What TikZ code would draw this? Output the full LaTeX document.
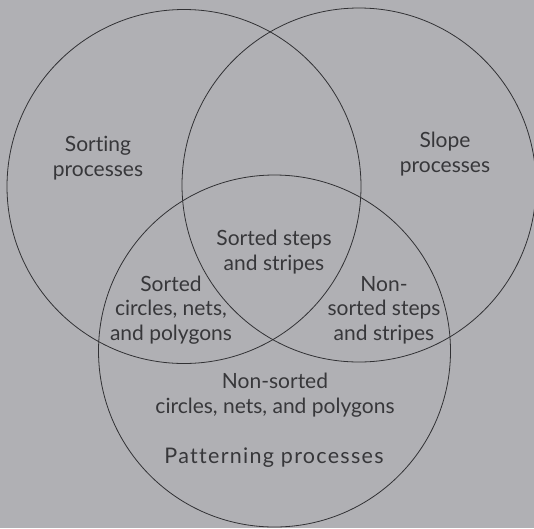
\documentclass[tikz,border=0pt]{standalone}
\usepackage{fontspec}
\setmainfont{Lato}[Ligatures={NoCommon}]
\definecolor{bg}{RGB}{176,176,180}
\definecolor{ink}{RGB}{55,55,58}
\begin{document}
\begin{tikzpicture}[x=1pt,y=-1pt,
  ring/.style={draw=ink!90!black,line width=0.8pt},
  lbl/.style={text=ink,font=\fontsize{21}{24.5}\selectfont,align=center,inner sep=0pt}]
\fill[bg] (0,0) rectangle (534,528);
\useasboundingbox (0,0) rectangle (534,528);
\draw[ring] (184,186.5) circle (177);
\draw[ring] (359,185) circle (177);
\draw[ring] (274.5,351) circle (176);
\node[lbl] (sort) at (98,158) {Sorting\\processes};
\node[lbl] (slope) at (445,154) {Slope\\processes};
\node[lbl] (sss) at (274,252) {Sorted steps\\and stripes};
\node[lbl] (scnp) at (171,310) {Sorted\\circles, nets,\\and polygons};
\node[lbl] (nsss) at (384,310) {Non-\\sorted steps\\and stripes};
\node[lbl] (nscnp) at (275,395) {Non-sorted\\circles, nets, and polygons};
\node[lbl,font=\fontsize{21.5}{24.5}\selectfont\addfontfeatures{LetterSpace=6}] (pat) at (274,458) {Patterning processes};
\end{tikzpicture}
\end{document}
